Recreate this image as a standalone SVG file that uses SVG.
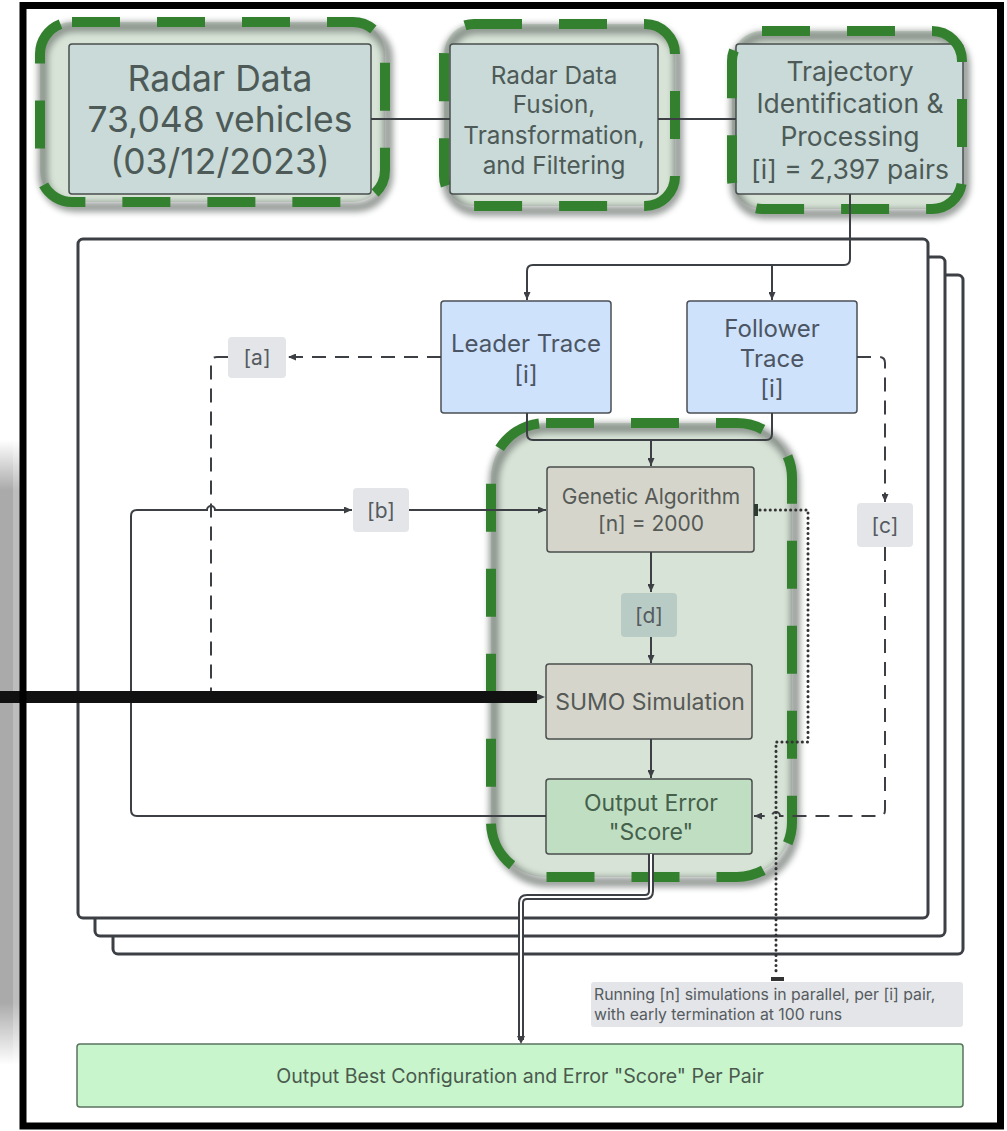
<svg xmlns="http://www.w3.org/2000/svg" width="1007" height="1131" viewBox="0 0 1007 1131">
<defs>
<style>
text{font-family:Inter,"Liberation Sans",sans-serif;text-anchor:middle}
.frame{fill:#fff;stroke:#3c3f44;stroke-width:3}
.gfill{fill:#d7e3d6}
.gshadow{fill:none;stroke:#6d7470;stroke-width:10;opacity:.7;filter:url(#blur)}
.gdash{fill:none;stroke:#33802f;stroke-width:10;stroke-dasharray:48 37}
.topbox{fill:#c9dad8;stroke:#4a4f4d;stroke-width:1.5}
.toptext{fill:#4d5a57}
.trace{fill:#cfe2fb;stroke:#4a4f55;stroke-width:1.5}
.tracetext{fill:#4b5563;font-size:24px}
.lbl{fill:#e3e5e8}
.lbltext{fill:#555b60;font-size:21px}
.proc{fill:#d5d5cb;stroke:#4a4f4d;stroke-width:1.5}
.proctext{fill:#555a57}
.out{fill:#c0dfc2;stroke:#4a4f4d;stroke-width:1.5}
.conn{fill:none;stroke:#3c3f44;stroke-width:2}
.dash{stroke-dasharray:14 9}
.dot{fill:none;stroke:#333;stroke-width:3;stroke-linecap:round;stroke-dasharray:0.1 5}
</style>
<filter id="blur" x="-10%" y="-10%" width="120%" height="120%"><feGaussianBlur stdDeviation="3"/></filter>
<marker id="arr" viewBox="0 0 8 7" refX="8" refY="3.5" markerWidth="8" markerHeight="7" markerUnits="userSpaceOnUse" orient="auto"><path d="M0,0 L8,3.5 L0,7 z" fill="#3c3f44"/></marker>
<linearGradient id="strip" x1="0" y1="0" x2="0" y2="1">
<stop offset="0" stop-color="#fff"/><stop offset="0.08" stop-color="#aaa"/><stop offset="0.9" stop-color="#aaa"/><stop offset="1" stop-color="#fff"/>
</linearGradient>
<linearGradient id="strip2" x1="0" y1="0" x2="0" y2="1">
<stop offset="0" stop-color="#fff"/><stop offset="0.08" stop-color="#bdbdbd"/><stop offset="0.9" stop-color="#bdbdbd"/><stop offset="1" stop-color="#fff"/>
</linearGradient>
</defs>
<rect x="0" y="0" width="1007" height="1131" fill="#fff"/>
<rect x="0" y="440" width="13" height="625" fill="url(#strip)"/>
<rect x="13" y="440" width="7" height="625" fill="url(#strip2)"/>

<g id="frames">
<rect class="frame" x="113" y="275" width="850" height="679" rx="5"/>
<rect class="frame" x="95" y="257" width="850" height="679" rx="5"/>
<rect class="frame" x="78" y="239" width="850" height="679" rx="5"/>
</g>

<g id="radar-data">
<rect class="gfill" x="40" y="22" width="345" height="180" rx="32"/>
<rect class="gshadow" x="43" y="27" width="345" height="180" rx="32"/>
<rect class="gdash" x="40" y="22" width="345" height="180" rx="32"/>
<rect class="topbox" x="69" y="44" width="302" height="150" rx="3"/>
<text class="toptext" font-size="35.5" x="220" y="91">Radar Data</text>
<text class="toptext" font-size="35.5" x="220" y="132">73,048 vehicles</text>
<text class="toptext" font-size="35.5" x="220" y="174">(03/12/2023)</text>
</g>

<g id="fusion">
<rect class="gfill" x="444" y="24" width="231" height="182" rx="30"/>
<rect class="gshadow" x="447" y="29" width="231" height="182" rx="30"/>
<rect class="gdash" x="444" y="24" width="231" height="182" rx="30"/>
<rect class="topbox" x="450" y="44" width="208" height="150" rx="3"/>
<text class="toptext" font-size="24.3" x="554" y="84">Radar Data</text>
<text class="toptext" font-size="24.3" x="554" y="113">Fusion,</text>
<text class="toptext" font-size="24.3" x="554" y="144">Transformation,</text>
<text class="toptext" font-size="24.3" x="554" y="174">and Filtering</text>
</g>

<g id="trajectory">
<rect class="gfill" x="732" y="31" width="230" height="178" rx="30"/>
<rect class="gshadow" x="735" y="36" width="230" height="178" rx="30"/>
<rect class="topbox" x="736" y="44" width="227" height="150" rx="3"/>
<rect class="gdash" x="732" y="31" width="230" height="178" rx="30"/>
<text class="toptext" font-size="26.5" x="850" y="81">Trajectory</text>
<text class="toptext" font-size="26.5" x="850" y="113">Identification &amp;</text>
<text class="toptext" font-size="26.5" x="850" y="146">Processing</text>
<text class="toptext" font-size="26.5" x="850" y="179">[i] = 2,397 pairs</text>
</g>

<g id="ga-group">
<rect class="gfill" x="491" y="423" width="301" height="454" rx="55"/>
<rect class="gshadow" x="494" y="428" width="301" height="454" rx="55"/>
<rect class="gdash" x="491" y="423" width="301" height="454" rx="55"/>
</g>

<g id="leader-trace">
<rect class="trace" x="441" y="301" width="170" height="112" rx="3"/>
<text class="tracetext" x="526" y="352">Leader Trace</text>
<text class="tracetext" x="526" y="383">[i]</text>
</g>

<g id="follower-trace">
<rect class="trace" x="687" y="301" width="170" height="112" rx="3"/>
<text class="tracetext" x="772" y="337">Follower</text>
<text class="tracetext" x="772" y="367">Trace</text>
<text class="tracetext" x="772" y="397">[i]</text>
</g>

<g id="label-a"><rect class="lbl" x="228" y="337" width="58" height="41" rx="4"/><text class="lbltext" x="257" y="365">[a]</text></g>
<g id="label-b"><rect class="lbl" x="353" y="488" width="56" height="44" rx="4"/><text class="lbltext" x="381" y="518">[b]</text></g>
<g id="label-c"><rect class="lbl" x="857" y="503" width="56" height="44" rx="4"/><text class="lbltext" x="885" y="533">[c]</text></g>

<g id="genetic-algorithm">
<rect class="proc" x="547" y="467" width="207" height="85" rx="3"/>
<text class="proctext" font-size="21" x="651" y="504">Genetic Algorithm</text>
<text class="proctext" font-size="21" x="651" y="531">[n] = 2000</text>
</g>

<g id="label-d"><rect fill="#b9cbc5" x="621" y="593" width="56" height="44" rx="4"/><text class="lbltext" x="649" y="623">[d]</text></g>

<g id="sumo">
<rect class="proc" x="546" y="664" width="206" height="75" rx="3"/>
<text class="proctext" font-size="23" x="650" y="710">SUMO Simulation</text>
</g>

<g id="output-error">
<rect class="out" x="546" y="779" width="206" height="75" rx="3"/>
<text fill="#45604b" font-size="23" x="651" y="811">Output Error</text>
<text fill="#45604b" font-size="23" x="651" y="840">"Score"</text>
</g>

<g id="annotation">
<rect class="lbl" x="591" y="982" width="372" height="45" rx="3"/>
<text fill="#555b60" font-size="15.8" x="594" y="1000" style="text-anchor:start">Running [n] simulations in parallel, per [i] pair,</text>
<text fill="#555b60" font-size="15.8" x="594" y="1020" style="text-anchor:start">with early termination at 100 runs</text>
</g>

<g id="output-best">
<rect fill="#c8f5cc" stroke="#5a7360" stroke-width="1.5" x="77" y="1044" width="886" height="63" rx="3"/>
<text fill="#4a5a4e" font-size="19.6" x="520" y="1083">Output Best Configuration and Error "Score" Per Pair</text>
</g>

<g id="connectors">
<path class="conn" d="M371,119 H450"/>
<path class="conn" d="M658,119 H736"/>
<path class="conn" d="M850,194 V259 Q850,265 844,265 H533 Q527,265 527,271 V300" marker-end="url(#arr)"/>
<path class="conn" d="M772,265 V300" marker-end="url(#arr)"/>
<path class="conn" d="M527,413 V434 Q527,440 533,440 H766 Q772,440 772,434 V413"/>
<path class="conn" d="M651,440 V466" marker-end="url(#arr)"/>
<path class="conn dash" d="M441,357 H288" marker-end="url(#arr)"/>
<path class="conn dash" d="M228,357 H217 Q211,357 211,363 V691 Q211,697 217,697 H545" marker-end="url(#arr)"/>
<path class="conn" d="M546,816 H137 Q131,816 131,810 V516 Q131,510 137,510 H207 A4,4 0 0 1 215,510 H352" marker-end="url(#arr)"/>
<path class="conn" d="M409,510 H546" marker-end="url(#arr)"/>
<path class="conn dash" d="M857,357 H879 Q885,357 885,363 V502" marker-end="url(#arr)"/>
<path class="conn dash" d="M885,547 V810 Q885,816 879,816 H780 A4,4 0 0 0 772,816 H754" marker-end="url(#arr)"/>
<path class="conn" d="M651,552 V592" marker-end="url(#arr)"/>
<path class="conn" d="M651,637 V663" marker-end="url(#arr)"/>
<path class="conn" d="M651,739 V778" marker-end="url(#arr)"/>
<path class="dot" d="M760,510 H808 V742 H776 V975"/>
<rect x="754" y="504" width="4" height="12" fill="#2c3a30"/>
<rect x="771" y="977" width="13" height="4" fill="#333"/>
<path d="M651,854 V891 Q651,897 645,897 H527 Q521,897 521,903 V1040" fill="none" stroke="#3c3f44" stroke-width="6"/>
<path d="M651,854 V891 Q651,897 645,897 H527 Q521,897 521,903 V1038" fill="none" stroke="#fff" stroke-width="2"/>
<path d="M517,1036 L521,1044 L525,1036 z" fill="#3c3f44"/>
<path d="M0,697 H537" stroke="#111" stroke-width="12"/>
</g>

<rect x="23" y="5.5" width="977.5" height="1120.5" fill="none" stroke="#000" stroke-width="7"/>
</svg>
